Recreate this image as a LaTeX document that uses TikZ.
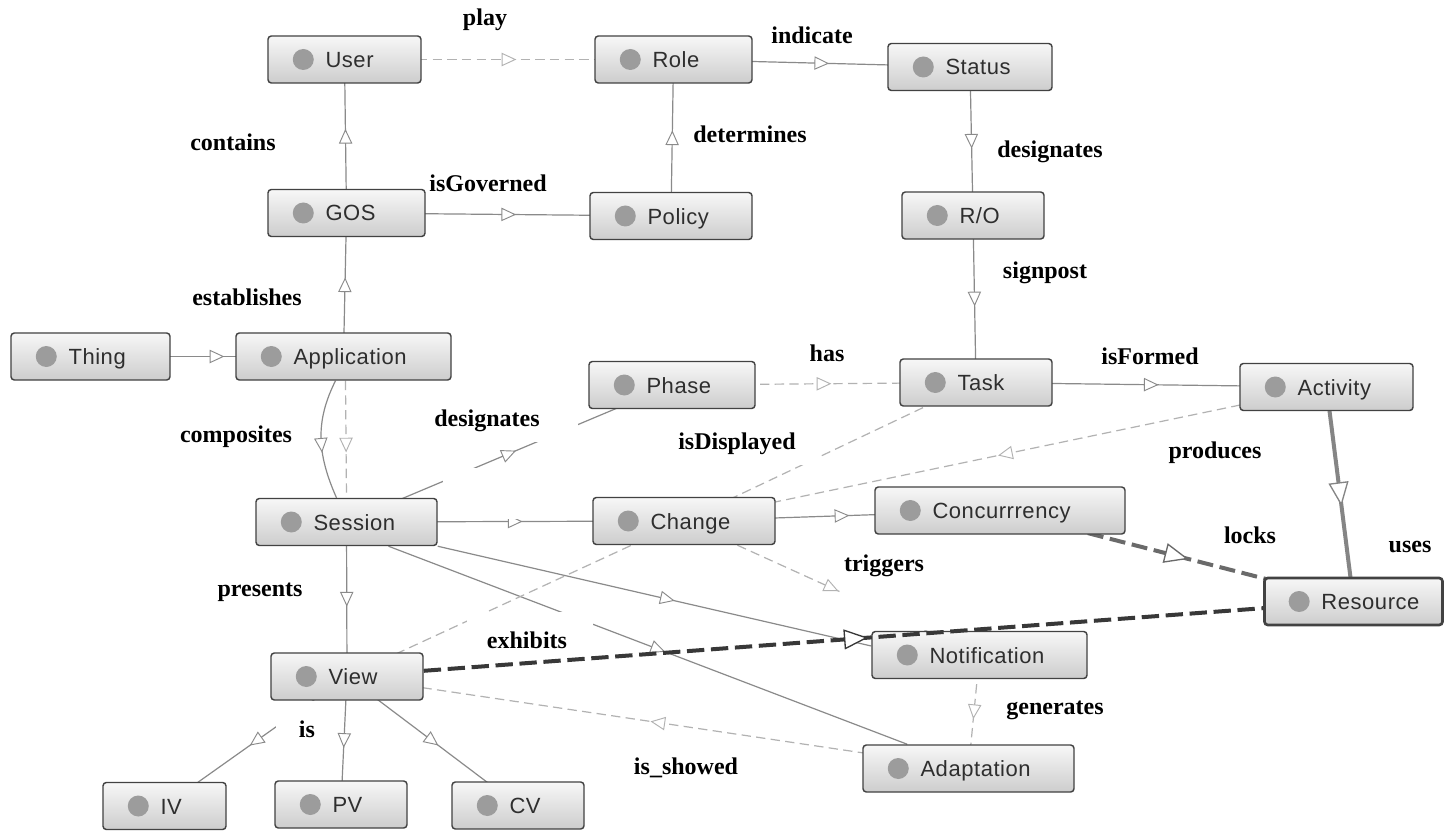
\documentclass[tikz,border=0pt]{standalone}
\usepackage{fontspec}
\setmainfont{Liberation Serif}
\newfontfamily\boxfont[LetterSpace=2.5]{Liberation Sans}
\usetikzlibrary{arrows.meta,decorations.markings,calc}

\pgfdeclarelayer{paper}
\pgfdeclarelayer{edges}
\pgfsetlayers{paper,edges,main}

\definecolor{edgegray}{HTML}{8A8A8A}
\definecolor{lightedge}{HTML}{B2B2B2}
\definecolor{darkedge}{HTML}{383838}
\definecolor{lockedge}{HTML}{6A6A6A}
\definecolor{heavyedge}{HTML}{858585}
\definecolor{boxborder}{HTML}{424242}
\definecolor{boxtop}{HTML}{F7F7F7}
\definecolor{boxbottom}{HTML}{CDCDCD}
\definecolor{dotgray}{HTML}{9C9C9C}
\definecolor{boxtext}{HTML}{2E2E2E}

\newdimen\px
\px=0.75pt

\tikzset{
  tri/.tip={Triangle[fill=white,length=11pt,width=10pt,line width=0.7pt]},
  bigtri/.tip={Triangle[fill=white,length=18pt,width=15pt,line width=1pt]},
  mid/.style={postaction={decorate,decoration={markings,
      mark=at position #1 with {\arrow[xshift=5.5pt]{tri}}}}},
  mid/.default=0.5,
  midbig/.style={postaction={decorate,decoration={markings,
      mark=at position #1 with {\arrow[xshift=9pt]{bigtri}}}}},
  midbig/.default=0.5,
  rel/.style={draw=edgegray, line width=0.9pt},
  lightrel/.style={draw=lightedge, line width=0.9pt, dash pattern=on 7pt off 4pt},
  heavyrel/.style={draw=heavyedge, line width=3pt},
  lockrel/.style={draw=lockedge, line width=3pt, dash pattern=on 12pt off 5pt},
  showrel/.style={draw=darkedge, line width=3pt, dash pattern=on 13pt off 5pt},
  cls/.style={shape=rectangle, draw=boxborder, line width=1.1pt, rounded corners=2.5pt,
      top color=boxtop, bottom color=boxbottom, minimum height=47\px,
      minimum width=#1\px, inner sep=0pt},
  clstext/.style={font=\boxfont\fontsize{16.5}{18}\selectfont, text=boxtext, inner sep=0pt},
  lbl/.style={font=\bfseries\fontsize{18}{20}\selectfont, fill=white, inner sep=1pt},
  patch/.style={fill=white},
}

% class box: [extra style]{name}{x}{y}{width}{text}
\newcommand\ontonode[6][]{%
  \node[cls=#5,#1] (#2) at (#3,#4) {};
  \fill[dotgray] ($(#2.west)+(36,0)$) circle[radius=10.5\px];
  \node[clstext, anchor=base west] (#2-name) at ($(#2.west)+(58,8)$) {#6};
}

\begin{document}
\begin{tikzpicture}[x=0.75pt,y=-0.75pt]
\useasboundingbox (0,0) rectangle (1446,831);
\begin{pgfonlayer}{paper}
  \fill[white] (0,0) rectangle (1446,831);
\end{pgfonlayer}

% ---------- classes ----------
\ontonode{user}{344.5}{59.5}{153}{User}
\ontonode{role}{673.5}{59.5}{157}{Role}
\ontonode{status}{970}{67}{164}{Status}
\ontonode{gos}{346.5}{213}{157}{GOS}
\ontonode{policy}{671}{216}{162}{Policy}
\ontonode{ro}{973}{215.5}{142}{R/O}
\ontonode{thing}{90.5}{356.5}{159}{Thing}
\ontonode{application}{343.5}{356.5}{215}{Application}
\ontonode{phase}{672}{385}{166}{Phase}
\ontonode{task}{976}{382.5}{152}{Task}
\ontonode{activity}{1326.5}{387}{173}{Activity}
\ontonode{session}{346.5}{522}{181}{Session}
\ontonode{change}{684}{521}{182}{Change}
\ontonode{concurrency}{1000}{510.5}{250}{Concurrrency}
\ontonode[line width=2pt]{resource}{1353.5}{601.5}{178}{Resource}
\ontonode{notification}{979.5}{655}{215}{Notification}
\ontonode{adaptation}{968.5}{768.5}{211}{Adaptation}
\ontonode{view}{347}{676.5}{152}{View}
\ontonode{iv}{164.5}{806}{123}{IV}
\ontonode{pv}{341}{804.5}{132}{PV}
\ontonode{cv}{518}{805.5}{132}{CV}

% ---------- relations (centre to centre, under the boxes) ----------
\begin{pgfonlayer}{edges}
  \draw[lightrel, mid] (user.center) -- (role.center);
  \draw[rel, mid] (role.center) -- (status.center);
  \draw[rel, mid] (gos.center) -- (user.center);
  \draw[rel, mid] (policy.center) -- (role.center);
  \draw[rel, mid] (gos.center) -- (policy.center);
  \draw[rel, mid] (status.center) -- (ro.center);
  \draw[rel, mid] (ro.center) -- (task.center);
  \draw[rel, mid] (application.center) -- (gos.center);
  \draw[rel, mid] (thing.center) -- (application.center);
  \draw[rel, mid=0.55] ($(application.south)+(-8,0)$)
      .. controls ($(application.south)+(-28,40)$) and ($(session.north)+(-30,-45)$)
      .. ($(session.north)+(-10,0)$);
  \draw[lightrel, mid=0.55] ($(application.south)+(2,0)$) -- (session.north);
  \draw[rel, mid] (session.center) -- (phase.center);
  \draw[lightrel, mid] (phase.center) -- (task.center);
  \draw[rel, mid] (task.center) -- (activity.center);
  \draw[lightrel] (task.center) -- (change.center);
  \draw[lightrel, mid] (activity.center) -- (change.center);
  \draw[rel, mid] (session.center) -- (change.center);
  \draw[rel, mid] (change.center) -- (concurrency.center);
  \draw[lockrel, midbig] (concurrency.center) -- (resource.center);
  \draw[heavyrel, midbig] (activity.center) -- (resource.center);
  \draw[lightrel, mid] (change.center) -- (notification.center);
  \draw[rel, mid=0.53] (session.south east) -- ($(notification.west)+(0,-9)$);
  \draw[rel, mid=0.52] ($(session.south)+(42,0)$) -- ($(adaptation.north west)+(45,0)$);
  \draw[rel, mid] (session.center) -- (view.center);
  \draw[lightrel] (change.center) -- (view.center);
  \draw[lightrel, mid] (adaptation.center) -- (view.center);
  \draw[lightrel, mid] (notification.center) -- (adaptation.center);
  \draw[rel, mid] (view.center) -- (iv.center);
  \draw[rel, mid] (view.center) -- (pv.center);
  \draw[rel, mid] (view.center) -- (cv.center);
\end{pgfonlayer}

% ---------- white label grounds ----------
\fill[patch] (420,398) rectangle (578,442);
\fill[patch] (443,468) rectangle (590,519);
\fill[patch] (672,430) rectangle (818,465);
\fill[patch] (840,548) rectangle (945,630);
\fill[patch] (467,612) rectangle (593,658);
\fill[patch] (276,701) rectangle (332,748);

% ---------- relation names ----------
\node[lbl] (l-play) at (485,20) {play};
\node[lbl] (l-indicate) at (812,35) {indicate};
\node[lbl] (l-contains) at (233,142) {contains};
\node[lbl] (l-determines) at (750,134) {determines};
\node[lbl] (l-isgoverned) at (488,183) {isGoverned};
\node[lbl] (l-designates1) at (1050,152) {designates};
\node[lbl] (l-signpost) at (1045,273) {signpost};
\node[lbl] (l-establishes) at (247,297) {establishes};
\node[lbl] (l-has) at (827,353) {has};
\node[lbl] (l-isformed) at (1150,356) {isFormed};
\node[lbl] (l-composites) at (236,437) {composites};
\node[lbl] (l-designates2) at (487,421) {designates};
\node[lbl] (l-isdisplayed) at (737,444) {isDisplayed};
\node[lbl] (l-produces) at (1215,453) {produces};
\node[lbl] (l-locks) at (1250,535) {locks};
\node[lbl] (l-uses) at (1410,547) {uses};
\node[lbl] (l-triggers) at (884,566) {triggers};
\node[lbl] (l-presents) at (260,592) {presents};
\node[lbl] (l-exhibits) at (527,640) {exhibits};
\node[lbl] (l-generates) at (1055,710) {generates};
\node[lbl] (l-is) at (307,729) {is};
\node[lbl] (l-isshowed) at (686,768) {is\_showed};

% ---------- exhibits: drawn across the Notification box ----------
\draw[showrel, midbig=0.515] (view) -- (resource);

\end{tikzpicture}
\end{document}
